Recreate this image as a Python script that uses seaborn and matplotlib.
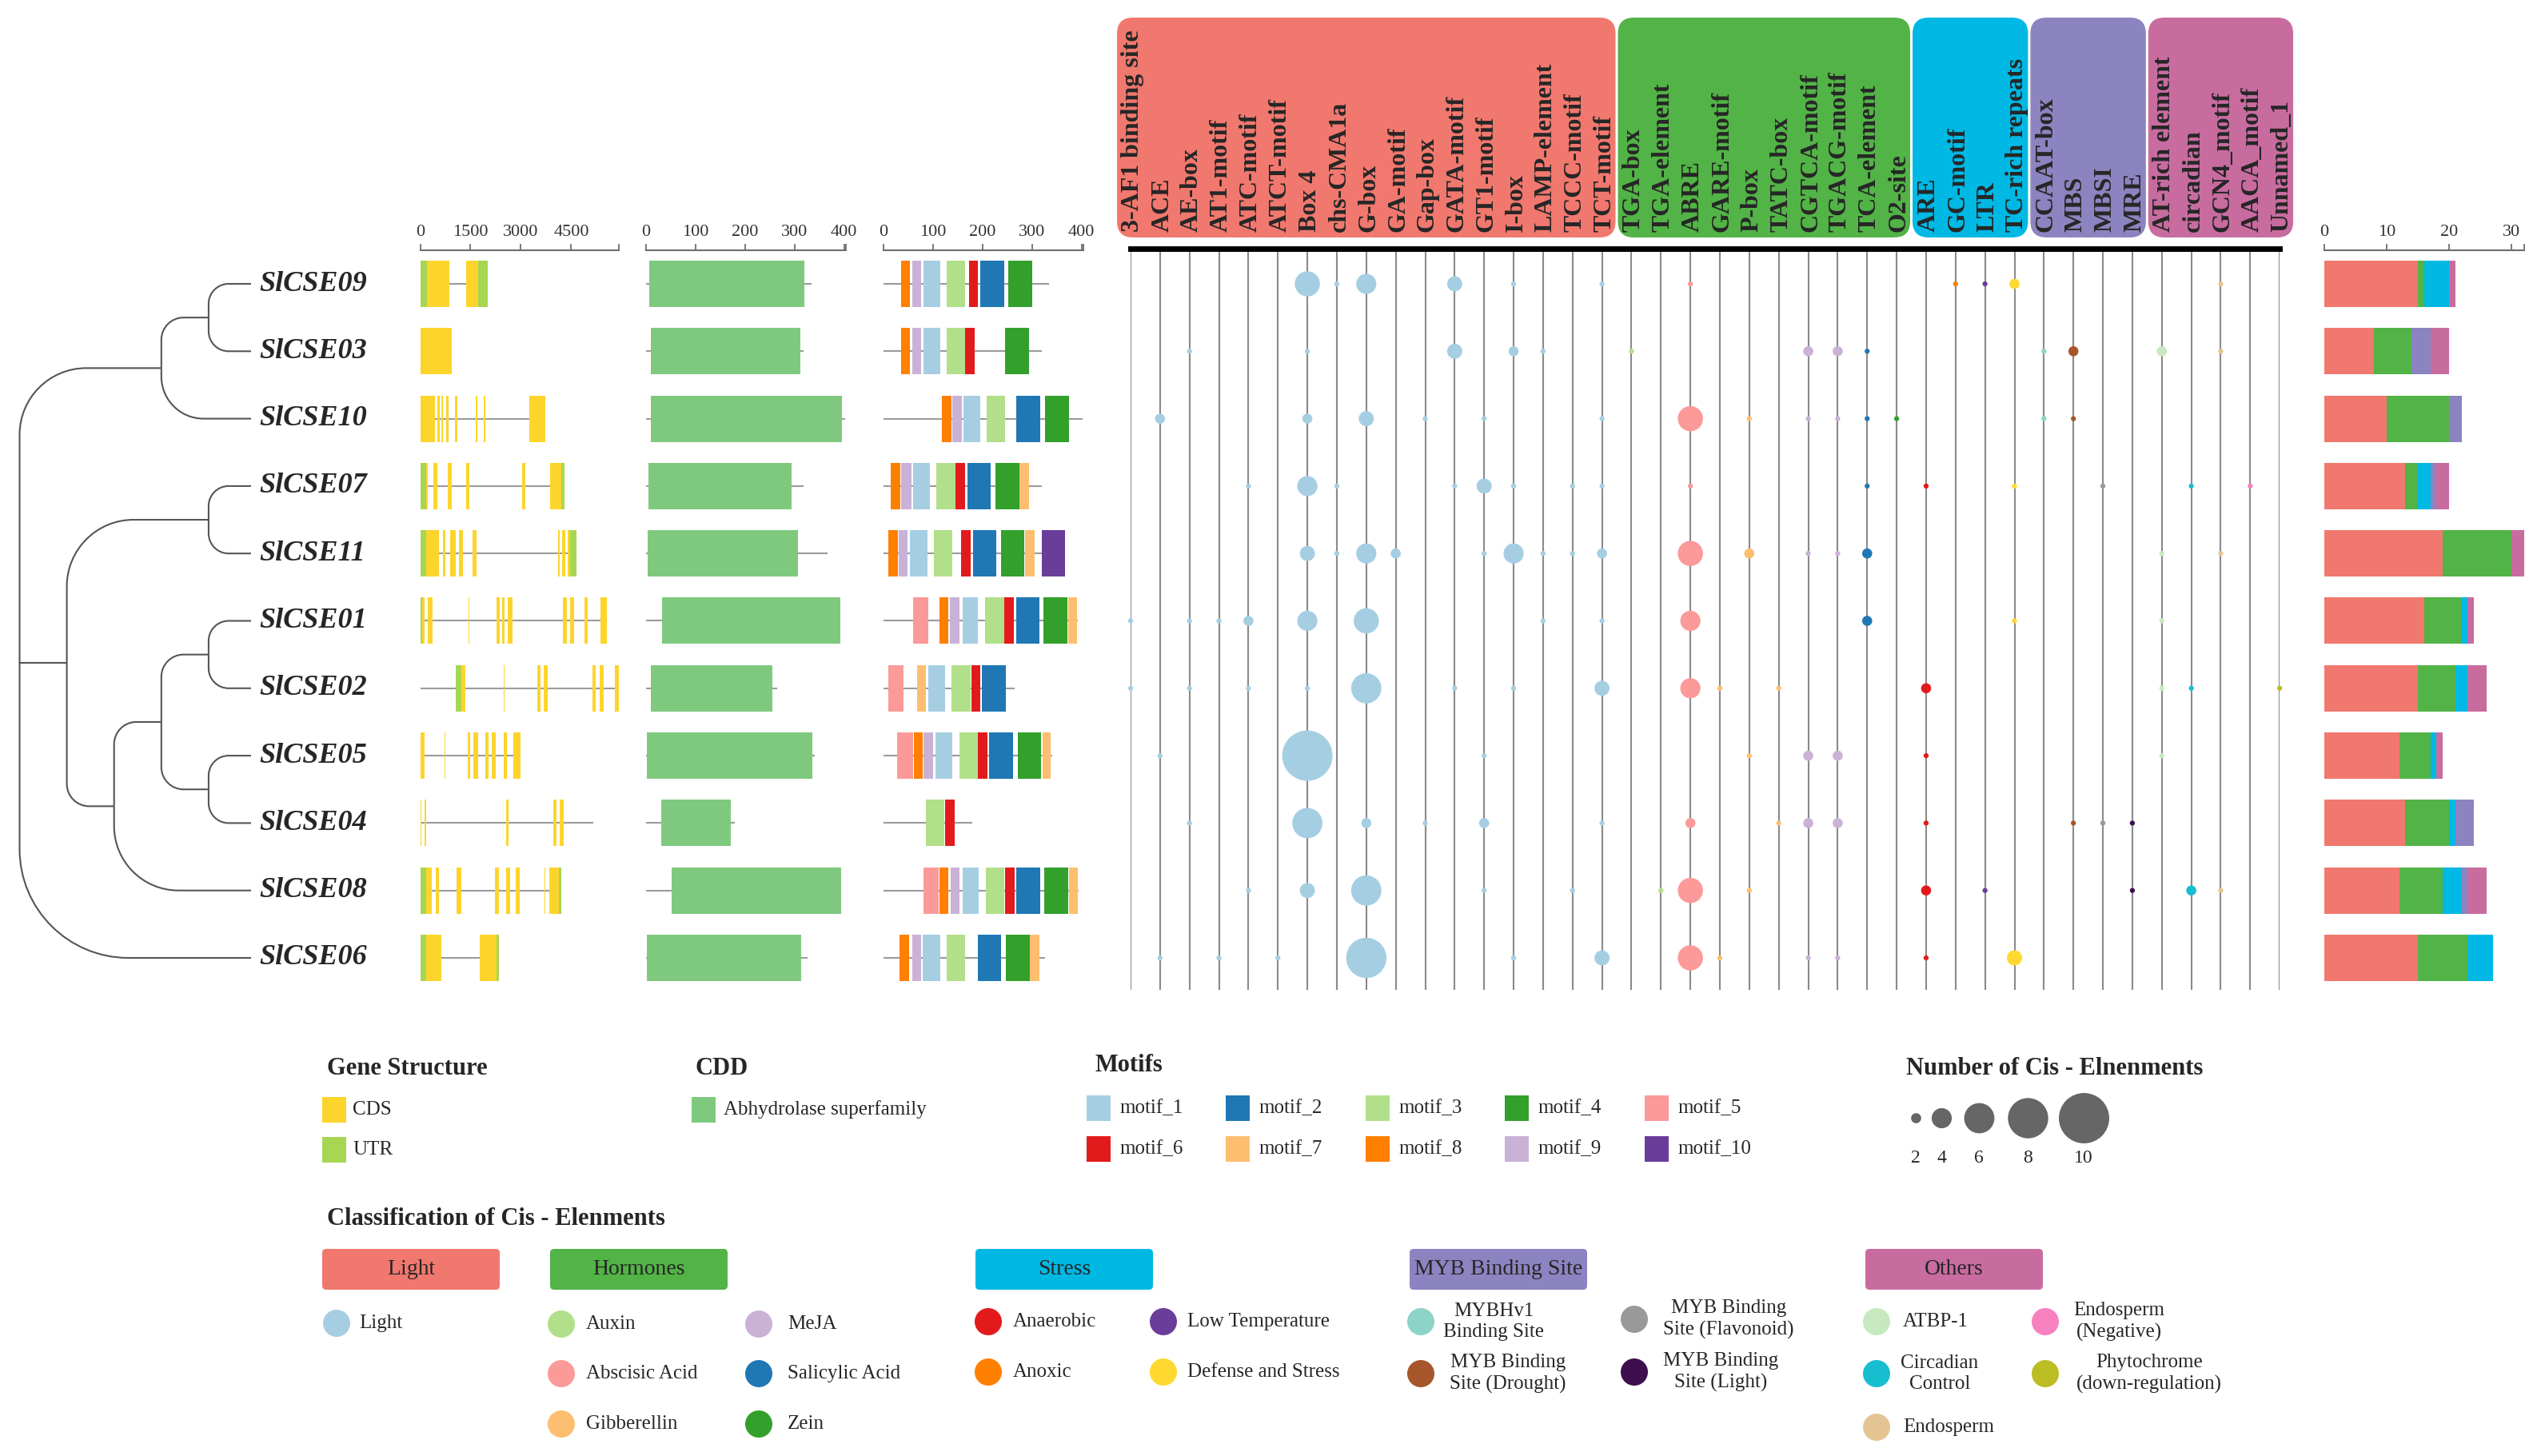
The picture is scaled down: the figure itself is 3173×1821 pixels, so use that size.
import numpy as np
import pandas as pd
import matplotlib
matplotlib.use("Agg")
import matplotlib.pyplot as plt
import seaborn as sns
from matplotlib.patches import Rectangle, FancyBboxPatch, Circle, PathPatch
from matplotlib.path import Path

# ---------------------------------------------------------------- data
gene_names = ["SlCSE09", "SlCSE03", "SlCSE10", "SlCSE07", "SlCSE11", "SlCSE01",
              "SlCSE02", "SlCSE05", "SlCSE04", "SlCSE08", "SlCSE06"]
tree = ((("SlCSE09", "SlCSE03"), "SlCSE10"),
        (("SlCSE07", "SlCSE11"),
         ((("SlCSE01", "SlCSE02"), ("SlCSE05", "SlCSE04")), "SlCSE08")),
        "SlCSE06")

gene_len = [2006, 936, 3721, 4305, 4657, 5570, 5910, 2979, 5168, 4207, 2335]
cds_regions = [
    [(207, 863), (1374, 1739)],
    [(0, 936)],
    [(0, 440), (520, 585), (640, 690), (765, 835), (1045, 1115), (1650, 1710), (1895, 1950), (3260, 3721)],
    [(180, 215), (400, 510), (830, 940), (1360, 1460), (3040, 3140), (3870, 4210)],
    [(180, 550), (670, 750), (900, 1060), (1150, 1280), (1550, 1690), (4110, 4150), (4230, 4320), (4400, 4470)],
    [(60, 120), (220, 360), (1450, 1475), (2280, 2370), (2430, 2505), (2620, 2750), (4250, 4380), (4460, 4580), (4900, 4990), (5370, 5570)],
    [(1216, 1340), (2495, 2515), (3480, 3590), (3690, 3810), (5130, 5230), (5350, 5470), (5790, 5910)],
    [(0, 120), (720, 740), (1410, 1485), (1580, 1725), (1945, 2045), (2140, 2260), (2500, 2590), (2770, 2979)],
    [(0, 40), (120, 180), (2550, 2640), (3975, 4060), (4160, 4280), (5150, 5168)],
    [(180, 340), (460, 550), (1095, 1215), (2225, 2335), (2565, 2675), (2855, 2955), (3715, 3730), (3840, 4130)],
    [(180, 620), (1765, 2275)],
]
utr_regions = [
    [(0, 207), (1739, 2006)],
    [],
    [],
    [(0, 180), (4210, 4305)],
    [(0, 180), (4470, 4657)],
    [(0, 60)],
    [(1060, 1216)],
    [],
    [],
    [(0, 180), (4130, 4207)],
    [(0, 180), (2275, 2335)],
]
gene_ticks = [0, 1500, 3000, 4500]
gene_axis_max = 5920

prot_len = [334, 319, 402, 319, 367, 392, 265, 341, 179, 394, 326]
cdd_start = [7, 10, 10, 6, 3, 33, 10, 2, 31, 52, 2]
cdd_end = [320, 312, 396, 294, 307, 392, 256, 337, 172, 394, 313]
cdd_name = "Abhydrolase superfamily"
aa_ticks = [0, 100, 200, 300, 400]
aa_axis_max = 404

motif_names = ["motif_%d" % i for i in range(1, 11)]
motif_regions = [
    [(8, 35, 54), (9, 58, 76), (1, 81, 114), (3, 128, 165), (6, 172, 191), (2, 196, 244), (4, 252, 300)],
    [(8, 35, 54), (9, 58, 76), (1, 81, 114), (3, 127, 164), (6, 165, 184), (4, 246, 293)],
    [(8, 118, 137), (9, 139, 158), (1, 162, 195), (3, 208, 245), (2, 268, 316), (4, 326, 374)],
    [(8, 15, 34), (9, 36, 56), (1, 60, 94), (3, 107, 145), (6, 146, 165), (2, 169, 217), (4, 226, 274), (7, 275, 294)],
    [(8, 10, 29), (9, 31, 49), (1, 54, 88), (3, 102, 139), (6, 157, 176), (2, 180, 228), (4, 238, 284), (7, 286, 305), (10, 320, 367)],
    [(5, 59, 90), (8, 113, 131), (9, 134, 153), (1, 159, 191), (3, 205, 243), (6, 244, 263), (2, 268, 315), (4, 323, 371), (7, 373, 390)],
    [(5, 10, 40), (7, 68, 86), (1, 91, 124), (3, 137, 176), (6, 177, 195), (2, 199, 247)],
    [(5, 28, 60), (8, 61, 79), (9, 81, 100), (1, 105, 139), (3, 153, 190), (6, 191, 210), (2, 213, 261), (4, 271, 318), (7, 321, 338)],
    [(3, 86, 123), (6, 125, 143)],
    [(5, 80, 111), (8, 113, 131), (9, 136, 154), (1, 159, 192), (3, 206, 243), (6, 245, 264), (2, 268, 316), (4, 325, 373), (7, 375, 392)],
    [(8, 33, 52), (9, 58, 76), (1, 79, 114), (3, 127, 164), (2, 190, 238), (4, 247, 295), (7, 296, 314)],
]

cis_elements = ["3-AF1 binding site", "ACE", "AE-box", "AT1-motif", "ATC-motif", "ATCT-motif",
                "Box 4", "chs-CMA1a", "G-box", "GA-motif", "Gap-box", "GATA-motif", "GT1-motif",
                "I-box", "LAMP-element", "TCCC-motif", "TCT-motif",
                "TGA-box", "TGA-element", "ABRE", "GARE-motif", "P-box", "TATC-box",
                "CGTCA-motif", "TGACG-motif", "TCA-element", "O2-site",
                "ARE", "GC-motif", "LTR", "TC-rich repeats",
                "CCAAT-box", "MBS", "MBSI", "MRE",
                "AT-rich element", "circadian", "GCN4_motif", "AACA_motif", "Unnamed_1"]
cis_class = ["Light"] * 17 + ["Hormones"] * 10 + ["Stress"] * 4 + ["MYB Binding Site"] * 4 + ["Others"] * 5
cis_function = (["Light"] * 17 +
                ["Auxin", "Auxin", "Abscisic Acid", "Gibberellin", "Gibberellin", "Gibberellin",
                 "MeJA", "MeJA", "Salicylic Acid", "Zein"] +
                ["Anaerobic", "Anoxic", "Low Temperature", "Defense and Stress"] +
                ["MYBHv1 Binding Site", "MYB Binding Site (Drought)", "MYB Binding Site (Flavonoid)",
                 "MYB Binding Site (Light)"] +
                ["ATBP-1", "Circadian Control", "Endosperm", "Endosperm (Negative)",
                 "Phytochrome (down-regulation)"])
cis_counts = [
    {"Box 4": 5, "chs-CMA1a": 1, "G-box": 4, "GATA-motif": 3, "I-box": 1, "TCT-motif": 1,
     "ABRE": 1, "GC-motif": 1, "LTR": 1, "TC-rich repeats": 2, "GCN4_motif": 1},
    {"AE-box": 1, "Box 4": 1, "GATA-motif": 3, "I-box": 2, "LAMP-element": 1, "TGA-box": 1,
     "CGTCA-motif": 2, "TGACG-motif": 2, "TCA-element": 1, "CCAAT-box": 1, "MBS": 2,
     "AT-rich element": 2, "GCN4_motif": 1},
    {"ACE": 2, "Box 4": 2, "G-box": 3, "Gap-box": 1, "GT1-motif": 1, "TCT-motif": 1,
     "ABRE": 5, "P-box": 1, "CGTCA-motif": 1, "TGACG-motif": 1, "TCA-element": 1, "O2-site": 1,
     "CCAAT-box": 1, "MBS": 1},
    {"ATC-motif": 1, "Box 4": 4, "chs-CMA1a": 1, "GATA-motif": 1, "GT1-motif": 3, "I-box": 1,
     "TCCC-motif": 1, "TCT-motif": 1, "ABRE": 1, "TCA-element": 1, "ARE": 1, "TC-rich repeats": 1,
     "MBSI": 1, "circadian": 1, "AACA_motif": 1},
    {"Box 4": 3, "chs-CMA1a": 1, "G-box": 4, "GA-motif": 2, "GT1-motif": 1, "I-box": 4,
     "LAMP-element": 1, "TCCC-motif": 1, "TCT-motif": 2, "ABRE": 5, "P-box": 2, "CGTCA-motif": 1,
     "TGACG-motif": 1, "TCA-element": 2, "AT-rich element": 1, "GCN4_motif": 1},
    {"3-AF1 binding site": 1, "AE-box": 1, "AT1-motif": 1, "ATC-motif": 2, "Box 4": 4, "G-box": 5,
     "LAMP-element": 1, "TCT-motif": 1, "ABRE": 4, "TCA-element": 2, "TC-rich repeats": 1,
     "AT-rich element": 1},
    {"3-AF1 binding site": 1, "AE-box": 1, "ATC-motif": 1, "Box 4": 1, "G-box": 6, "GATA-motif": 1,
     "I-box": 1, "TCT-motif": 3, "ABRE": 4, "GARE-motif": 1, "TATC-box": 1, "ARE": 2,
     "AT-rich element": 1, "circadian": 1, "Unnamed_1": 1},
    {"ACE": 1, "Box 4": 10, "GT1-motif": 1, "P-box": 1, "CGTCA-motif": 2, "TGACG-motif": 2,
     "ARE": 1, "AT-rich element": 1},
    {"AE-box": 1, "Box 4": 6, "G-box": 2, "Gap-box": 1, "GT1-motif": 2, "TCT-motif": 1,
     "ABRE": 2, "TATC-box": 1, "CGTCA-motif": 2, "TGACG-motif": 2, "ARE": 1,
     "MBS": 1, "MBSI": 1, "MRE": 1},
    {"ATC-motif": 1, "Box 4": 3, "G-box": 6, "GT1-motif": 1, "TCCC-motif": 1, "TGA-element": 1,
     "ABRE": 5, "P-box": 1, "ARE": 2, "LTR": 1, "MRE": 1, "circadian": 2, "GCN4_motif": 1},
    {"ACE": 1, "AT1-motif": 1, "ATCT-motif": 1, "G-box": 8, "I-box": 1, "TCT-motif": 3,
     "ABRE": 5, "GARE-motif": 1, "CGTCA-motif": 1, "TGACG-motif": 1, "ARE": 1,
     "TC-rich repeats": 3},
]
count_ticks = [0, 10, 20, 30]
count_axis_max = 32
size_legend = [2, 4, 6, 8, 10]

class_names = ["Light", "Hormones", "Stress", "MYB Binding Site", "Others"]
class_colors = ["#f1786e", "#52b346", "#00b8e4", "#8c84c0", "#c86ca0"]
func_colors = {
    "Light": "#a6cee3", "Auxin": "#b2df8a", "MeJA": "#cab2d6", "Abscisic Acid": "#fb9a99",
    "Salicylic Acid": "#1f78b4", "Gibberellin": "#fdbf6f", "Zein": "#33a02c",
    "Anaerobic": "#e31a1c", "Low Temperature": "#6a3d9a", "Anoxic": "#ff7f00",
    "Defense and Stress": "#ffd92f", "MYBHv1 Binding Site": "#8dd3c7",
    "MYB Binding Site (Flavonoid)": "#999999", "MYB Binding Site (Drought)": "#a6562a",
    "MYB Binding Site (Light)": "#3d0f4f", "ATBP-1": "#c7e9c0",
    "Endosperm (Negative)": "#f781bf", "Circadian Control": "#17becf",
    "Phytochrome (down-regulation)": "#bcbd22", "Endosperm": "#e5c494"}
motif_colors = sns.color_palette("Paired", 10).as_hex()
CDS_C, UTR_C, CDD_C = "#fdd42c", "#a6d652", "#7fc97f"

# ---------------------------------------------------------------- style / layout
sns.set_theme(style="white")
plt.rcParams["font.family"] = ["Liberation Serif", "DejaVu Serif"]

W, H = 3173, 1821
fig = plt.figure(figsize=(W / 100, H / 100), dpi=100)
cv = fig.add_axes([0, 0, 1, 1])
cv.set_xlim(0, W)
cv.set_ylim(H, 0)
cv.axis("off")

ROW0, ROWH = 355.0, 84.3
BH = 58 / ROWH
n = len(gene_names)
X0B, DXB = 1414.0, 36.85


def rpx(r):
    return ROW0 + ROWH * r


def prow(y):
    return (y - ROW0) / ROWH


def panel(x0, x1, y0, y1):
    ax = fig.add_axes([x0 / W, 1 - y1 / H, (x1 - x0) / W, (y1 - y0) / H])
    ax.set_facecolor("none")
    for s in ax.spines.values():
        s.set_visible(False)
    ax.grid(False)
    return ax


def top_axis(ax, ticks, end):
    ax.spines["top"].set_visible(True)
    ax.spines["top"].set_color("#6e6e6e")
    ax.spines["top"].set_linewidth(1.5)
    ax.set_xticks(ticks)
    ax.set_xticklabels([str(t) for t in ticks])
    ax.set_xticks([end], minor=True)
    ax.set_yticks([])
    ax.tick_params(axis="x", which="both", top=True, labeltop=True, bottom=False,
                   labelbottom=False, direction="out", length=6, width=1.3,
                   color="#6e6e6e", labelcolor="#333333", labelsize=16, pad=3)
    ax.tick_params(axis="x", which="minor", labeltop=False)


# ---------------------------------------------------------------- tree
def height(node):
    return 0 if isinstance(node, str) else 1 + max(height(c) for c in node)


HROOT = height(tree)
ROOT_X, STEP, TIP_X = 24.5, 59.1, 314.0


def layout(node):
    if isinstance(node, str):
        return (TIP_X, rpx(gene_names.index(node)))
    pts = [layout(c) for c in node]
    x = ROOT_X + (HROOT - height(node)) * STEP
    y = float(np.mean([p[1] for p in pts]))
    for (cx, cy) in pts:
        dy = cy - y
        if abs(dy) < 1.0:
            verts = [(x, y), (cx, cy)]
            codes = [Path.MOVETO, Path.LINETO]
        else:
            r = min(0.47 * (cx - x), abs(dy))
            sg = np.sign(dy)
            k = 0.5523 * r
            verts = [(x, y), (x, cy - sg * r), (x, cy - sg * r + sg * k), (x + r - k, cy),
                     (x + r, cy), (cx, cy)]
            codes = [Path.MOVETO, Path.LINETO, Path.CURVE4, Path.CURVE4, Path.CURVE4, Path.LINETO]
        cv.add_patch(PathPatch(Path(verts, codes), fc="none", ec="#555555", lw=1.5))
    return (x, y)


layout(tree)
for i, g in enumerate(gene_names):
    cv.text(324, rpx(i), g, fontsize=26, style="italic", weight="bold", va="center", ha="left")

# ---------------------------------------------------------------- gene structure
ax_g = panel(525.5, 774, 313, 1250)
for i in range(n):
    ax_g.plot([0, gene_len[i]], [i, i], color="#9b9b9b", lw=1.5, zorder=1, solid_capstyle="butt")
    for s, e in cds_regions[i]:
        ax_g.add_patch(Rectangle((s, i - BH / 2), e - s, BH, fc=CDS_C, ec="none", zorder=2))
    for s, e in utr_regions[i]:
        ax_g.add_patch(Rectangle((s, i - BH / 2), e - s, BH, fc=UTR_C, ec="none", zorder=2))
ax_g.set_xlim(0, gene_axis_max)
ax_g.set_ylim(prow(1250), prow(313))
top_axis(ax_g, gene_ticks, gene_axis_max)

# ---------------------------------------------------------------- CDD
ax_c = panel(807.7, 807.7 + aa_axis_max * 0.6195, 313, 1250)
for i in range(n):
    ax_c.plot([0, prot_len[i]], [i, i], color="#9b9b9b", lw=1.5, zorder=1, solid_capstyle="butt")
    ax_c.add_patch(Rectangle((cdd_start[i], i - BH / 2), cdd_end[i] - cdd_start[i], BH,
                             fc=CDD_C, ec="none", zorder=2))
ax_c.set_xlim(0, aa_axis_max)
ax_c.set_ylim(prow(1250), prow(313))
top_axis(ax_c, aa_ticks, aa_axis_max)

# ---------------------------------------------------------------- motifs
ax_m = panel(1105, 1105 + aa_axis_max * 0.6195, 313, 1250)
for i in range(n):
    ax_m.plot([0, prot_len[i]], [i, i], color="#9b9b9b", lw=1.5, zorder=1, solid_capstyle="butt")
    for m, s, e in motif_regions[i]:
        ax_m.add_patch(Rectangle((s, i - BH / 2), e - s, BH, fc=motif_colors[m - 1],
                                 ec="none", zorder=2))
ax_m.set_xlim(0, aa_axis_max)
ax_m.set_ylim(prow(1250), prow(313))
top_axis(ax_m, aa_ticks, aa_axis_max)

# ---------------------------------------------------------------- cis-element bubbles
rows = []
for i, g in enumerate(gene_names):
    for el, c in cis_counts[i].items():
        k = cis_elements.index(el)
        rows.append(dict(gene=g, row=i, col=k, count=c, func=cis_function[k], cls=cis_class[k]))
df = pd.DataFrame(rows)


def bubble_area(c):
    return (6.3 * c * 0.72) ** 2


ncol = len(cis_elements)
ax_b = panel(X0B, X0B + (ncol - 1) * DXB, 310.5, 1250)
ax_b.vlines(range(ncol), prow(314), prow(1238), color="#8a8a8a", lw=1.5, zorder=1)
sns.scatterplot(data=df, x="col", y="row", hue="func", palette=func_colors, size="count",
                sizes={c: bubble_area(c) for c in sorted(df["count"].unique())},
                legend=False, linewidth=0, ax=ax_b, zorder=3, clip_on=False)
ax_b.set_xlim(0, ncol - 1)
ax_b.set_ylim(prow(1250), prow(310.5))
ax_b.set_xticks([])
ax_b.set_yticks([])
ax_b.set_xlabel("")
ax_b.set_ylabel("")
ax_b.spines["top"].set_visible(True)
ax_b.spines["top"].set_color("black")
ax_b.spines["top"].set_linewidth(5.0)

# header boxes + labels
for cname, ccol in zip(class_names, class_colors):
    idx = [k for k, c in enumerate(cis_class) if c == cname]
    xl = X0B + (min(idx) - 0.5) * DXB + 1.5
    xr = X0B + (max(idx) + 0.5) * DXB - 1.5
    cv.add_patch(FancyBboxPatch((xl, 22), xr - xl, 275,
                                boxstyle="round,pad=0,rounding_size=20",
                                fc=ccol, ec="none", zorder=1))
for k, el in enumerate(cis_elements):
    cv.text(X0B + k * DXB + 3, 290, el, rotation=90, ha="center", va="bottom",
            fontsize=23, weight="bold", zorder=2)

# ---------------------------------------------------------------- stacked bars
totals = np.zeros((n, len(class_names)))
for _, r in df.iterrows():
    totals[r["row"], class_names.index(r["cls"])] += r["count"]
cum = totals.cumsum(axis=1)
ax_s = panel(2907, 2907 + count_axis_max * 7.8, 313, 1250)
for k in range(len(class_names) - 1, -1, -1):
    sns.barplot(x=cum[:, k], y=gene_names, order=gene_names, orient="h",
                color=class_colors[k], saturation=1, width=BH, linewidth=0,
                errorbar=None, ax=ax_s)
ax_s.set_xlim(0, count_axis_max)
ax_s.set_ylim(prow(1250), prow(313))
ax_s.set_ylabel("")
ax_s.set_xlabel("")
for s in ax_s.spines.values():
    s.set_visible(False)
top_axis(ax_s, count_ticks, count_axis_max)

# ---------------------------------------------------------------- legends
LT, LF = 22, 18
cv.text(409, 1336, "Gene Structure", fontsize=LT, weight="bold", va="center")
for j, (lab, col) in enumerate([("CDS", CDS_C), ("UTR", UTR_C)]):
    y = 1388 + j * 50
    cv.add_patch(Rectangle((403, y - 16), 30, 32, fc=col, ec="none"))
    cv.text(441, y, lab, fontsize=LF, va="center")

cv.text(870, 1336, "CDD", fontsize=LT, weight="bold", va="center")
cv.add_patch(Rectangle((865, 1372), 30, 32, fc=CDD_C, ec="none"))
cv.text(905, 1388, cdd_name, fontsize=LF, va="center")

cv.text(1370, 1332, "Motifs", fontsize=LT, weight="bold", va="center")
for m, name in enumerate(motif_names):
    cx = 1374 + (m % 5) * 174.5
    cy = 1386 + (m // 5) * 51
    cv.add_patch(Rectangle((cx - 15, cy - 16), 30, 32, fc=motif_colors[m], ec="none"))
    cv.text(cx + 26, cy, name, fontsize=LF, va="center")

cv.text(2384, 1336, "Number of Cis - Elnenments", fontsize=LT, weight="bold", va="center")
for v, sx in zip(size_legend, [2396, 2428, 2475, 2536, 2606]):
    cv.scatter([sx], [1398], s=bubble_area(v), color="#666666", linewidths=0)
    cv.text(sx, 1449, str(v), fontsize=17, ha="center", va="center")

cv.text(409, 1524, "Classification of Cis - Elenments", fontsize=LT, weight="bold", va="center")
for cname, ccol, bx in zip(class_names, class_colors, [403, 688, 1220, 1763, 2333]):
    cv.add_patch(FancyBboxPatch((bx, 1562), 222, 51, boxstyle="round,pad=0,rounding_size=5",
                                fc=ccol, ec="none"))
    cv.text(bx + 111, 1588, cname, fontsize=20, ha="center", va="center")

legend_items = [
    ("Light", 421, 1655, 449, "left"),
    ("Auxin", 702, 1656, 733, "left"),
    ("MeJA", 949, 1656, 985, "left"),
    ("Abscisic Acid", 702, 1718, 733, "left"),
    ("Salicylic Acid", 949, 1718, 985, "left"),
    ("Gibberellin", 702, 1781, 733, "left"),
    ("Zein", 949, 1781, 985, "left"),
    ("Anaerobic", 1236, 1653, 1267, "left"),
    ("Low Temperature", 1455, 1653, 1485, "left"),
    ("Anoxic", 1236, 1716, 1267, "left"),
    ("Defense and Stress", 1455, 1716, 1485, "left"),
    ("MYBHv1 Binding Site", 1777, 1653, 1868, "center"),
    ("MYB Binding Site (Flavonoid)", 2044, 1650, 2162, "center"),
    ("MYB Binding Site (Drought)", 1777, 1718, 1886, "center"),
    ("MYB Binding Site (Light)", 2044, 1716, 2152, "center"),
    ("ATBP-1", 2347, 1653, 2380, "left"),
    ("Endosperm (Negative)", 2558, 1653, 2650, "center"),
    ("Circadian Control", 2347, 1718, 2426, "center"),
    ("Phytochrome (down-regulation)", 2558, 1718, 2688, "center"),
    ("Endosperm", 2347, 1785, 2380, "left"),
]
two_line = {
    "MYBHv1 Binding Site": "MYBHv1\nBinding Site",
    "MYB Binding Site (Flavonoid)": "MYB Binding\nSite (Flavonoid)",
    "MYB Binding Site (Drought)": "MYB Binding\nSite (Drought)",
    "MYB Binding Site (Light)": "MYB Binding\nSite (Light)",
    "Endosperm (Negative)": "Endosperm\n(Negative)",
    "Circadian Control": "Circadian\nControl",
    "Phytochrome (down-regulation)": "Phytochrome\n(down-regulation)",
}
for lab, cx, cy, tx, ha in legend_items:
    cv.add_patch(Circle((cx, cy), 17, fc=func_colors[lab], ec="none"))
    cv.text(tx, cy, two_line.get(lab, lab), fontsize=LF, ha=ha, va="center",
            multialignment="center", linespacing=1.25)

fig.savefig("out.png", dpi=100)
